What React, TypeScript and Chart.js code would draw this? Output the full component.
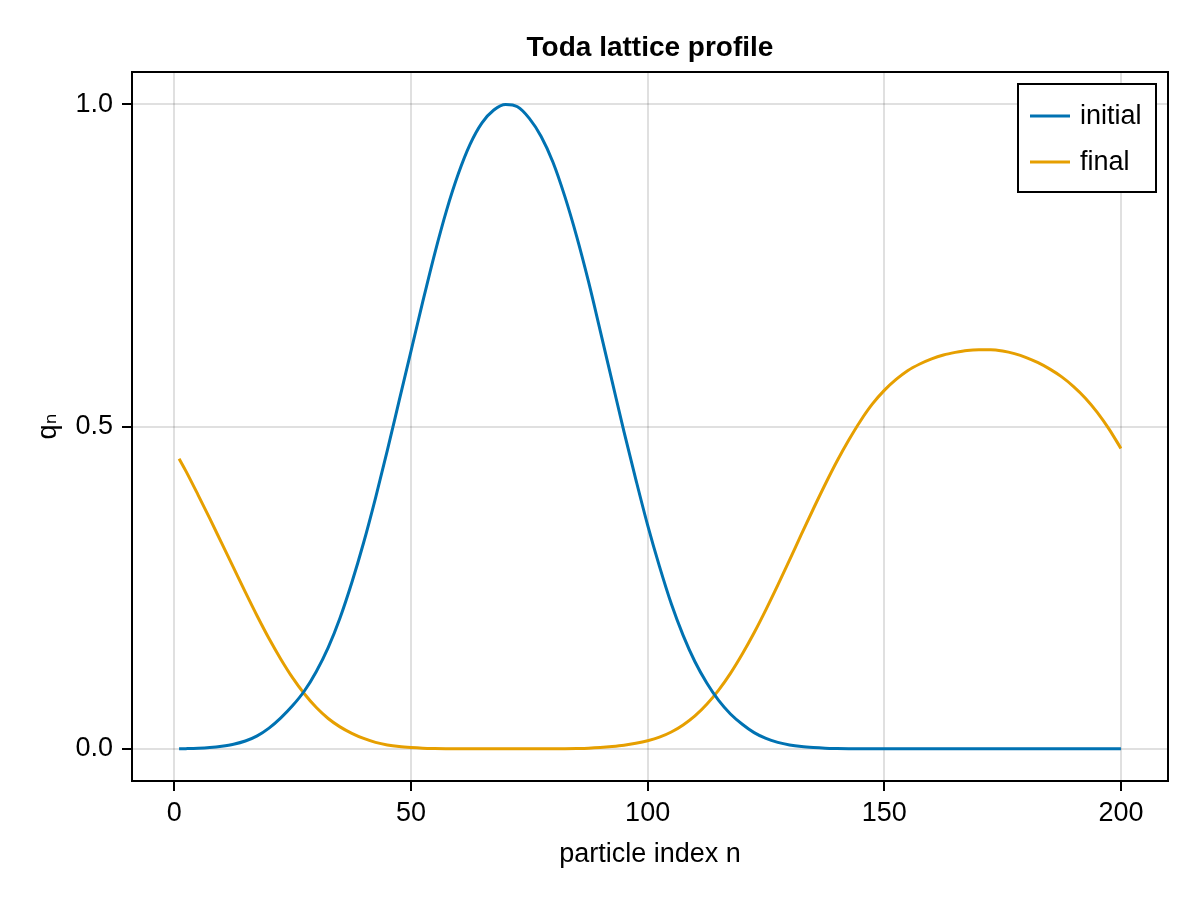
import React, { useEffect, useRef } from "react";
import { Chart, registerables } from "chart.js";

Chart.register(...registerables);

// ---- data ----
const particleIndex = [
  1, 2.5, 5, 7.5, 10, 12.5, 15, 17.5, 20, 22.5, 25, 27.5, 30, 32.5, 35, 37.5,
  40, 42.5, 45, 47.5, 50, 52.5, 55, 57.5, 60, 62.5, 65, 67.5, 70, 72.5, 75, 77.5,
  80, 82.5, 85, 87.5, 90, 92.5, 95, 97.5, 100, 102.5, 105, 107.5, 110, 112.5,
  115, 117.5, 120, 122.5, 125, 127.5, 130, 132.5, 135, 137.5, 140, 142.5, 145,
  147.5, 150, 152.5, 155, 157.5, 160, 162.5, 165, 167.5, 170, 172.5, 175, 177.5,
  180, 182.5, 185, 187.5, 190, 192.5, 195, 197.5, 200,
];

const initialProfile = [
  0, 0.0002, 0.0008, 0.002, 0.004, 0.007, 0.012, 0.02, 0.032, 0.048, 0.067,
  0.09, 0.12, 0.157, 0.203, 0.258, 0.32, 0.389, 0.463, 0.54, 0.617, 0.694,
  0.768, 0.835, 0.892, 0.938, 0.971, 0.991, 0.9995, 0.996, 0.978, 0.95, 0.91,
  0.857, 0.795, 0.725, 0.648, 0.57, 0.492, 0.418, 0.347, 0.283, 0.225, 0.176,
  0.135, 0.102, 0.075, 0.054, 0.038, 0.025, 0.016, 0.01, 0.006, 0.0035, 0.002,
  0.001, 0.0005, 0.0002, 0, 0, 0, 0, 0, 0, 0, 0, 0, 0, 0, 0, 0, 0, 0, 0, 0, 0,
  0, 0, 0, 0, 0,
];

const finalProfile = [
  0.45, 0.43, 0.394, 0.357, 0.319, 0.281, 0.243, 0.206, 0.171, 0.139, 0.11,
  0.085, 0.064, 0.047, 0.034, 0.024, 0.016, 0.01, 0.006, 0.0035, 0.002, 0.001,
  0.0005, 0.0002, 0, 0, 0, 0, 0, 0, 0, 0, 0, 0.0002, 0.0005, 0.001, 0.002,
  0.0035, 0.0055, 0.0085, 0.0125, 0.018, 0.026, 0.037, 0.051, 0.069, 0.091,
  0.117, 0.147, 0.18, 0.216, 0.254, 0.293, 0.333, 0.372, 0.41, 0.446, 0.479,
  0.509, 0.535, 0.556, 0.573, 0.587, 0.597, 0.605, 0.611, 0.615, 0.618, 0.619,
  0.619, 0.617, 0.613, 0.607, 0.599, 0.589, 0.577, 0.562, 0.544, 0.522, 0.496,
  0.466,
];

const seriesLabels = ["initial", "final"];
const seriesColors = ["#0072B2", "#E69F00"];
const xTickValues = [0, 50, 100, 150, 200];
const yTickValues = [0, 0.5, 1.0];
const titleText = "Toda lattice profile";
const xAxisLabel = "particle index n";
const yAxisLabel = "qₙ";

const FONT = "'Liberation Sans', Arial, 'DejaVu Sans', sans-serif";

const frameLegendPlugin = {
  id: "frameLegend",
  afterDraw(chart: any) {
    const ctx = chart.ctx;
    const a = chart.chartArea;
    ctx.save();
    // full frame around plot area
    ctx.strokeStyle = "#000";
    ctx.lineWidth = 2;
    ctx.strokeRect(a.left, a.top, a.right - a.left, a.bottom - a.top);

    // legend box (top-right, inside plot)
    const boxW = 138;
    const boxH = 108;
    const bx = a.right - 12 - boxW;
    const by = a.top + 12;
    ctx.fillStyle = "#fff";
    ctx.fillRect(bx, by, boxW, boxH);
    ctx.strokeRect(bx, by, boxW, boxH);
    ctx.font = `27px ${FONT}`;
    ctx.textBaseline = "middle";
    ctx.textAlign = "left";
    chart.data.datasets.forEach((ds: any, i: number) => {
      const y = by + 32 + i * 46;
      ctx.strokeStyle = ds.borderColor;
      ctx.lineWidth = 3;
      ctx.beginPath();
      ctx.moveTo(bx + 12, y);
      ctx.lineTo(bx + 52, y);
      ctx.stroke();
      ctx.fillStyle = "#000";
      ctx.fillText(ds.label, bx + 62, y + 1);
    });
    ctx.restore();
  },
};

export default function App() {
  const canvasRef = useRef<HTMLCanvasElement | null>(null);

  useEffect(() => {
    const canvas = canvasRef.current;
    if (!canvas) return;
    const makeSeries = (vals: number[]) =>
      particleIndex.map((n, i) => ({ x: n, y: vals[i] }));

    const gridCommon = {
      color: "rgba(0,0,0,0.12)",
      lineWidth: 2,
      drawTicks: true,
      tickLength: 10,
      tickColor: "#000",
      tickWidth: 2,
    };

    const chart = new Chart(canvas, {
      type: "line",
      data: {
        datasets: [
          {
            label: seriesLabels[0],
            data: makeSeries(initialProfile),
            borderColor: seriesColors[0],
            backgroundColor: seriesColors[0],
            borderWidth: 3,
            pointRadius: 0,
            cubicInterpolationMode: "monotone",
            fill: false,
          },
          {
            label: seriesLabels[1],
            data: makeSeries(finalProfile),
            borderColor: seriesColors[1],
            backgroundColor: seriesColors[1],
            borderWidth: 3,
            pointRadius: 0,
            cubicInterpolationMode: "monotone",
            fill: false,
          },
        ],
      },
      options: {
        responsive: false,
        animation: false,
        devicePixelRatio: 1,
        layout: { padding: { left: 0, right: 32, top: 0, bottom: 0 } },
        plugins: {
          legend: { display: false },
          tooltip: { enabled: false },
          title: {
            display: true,
            text: titleText,
            fullSize: false,
            color: "#000",
            font: { family: FONT, size: 28, weight: "bold", lineHeight: 1.2 },
            padding: { top: 31, bottom: 7.4 },
          },
        },
        scales: {
          x: {
            type: "linear",
            min: -8.95,
            max: 209.95,
            afterBuildTicks: (s: any) => {
              s.ticks = xTickValues.map((v) => ({ value: v }));
            },
            afterFit: (s: any) => {
              s.height = 119;
            },
            ticks: {
              color: "#000",
              font: { family: FONT, size: 27 },
              padding: 6,
              maxRotation: 0,
              autoSkip: false,
              callback: (v: any) => String(v),
            },
            grid: gridCommon,
            border: { display: false },
            title: {
              display: true,
              text: xAxisLabel,
              color: "#000",
              font: { family: FONT, size: 27, lineHeight: 1.2 },
              padding: { bottom: 29 },
            },
          },
          y: {
            type: "linear",
            min: -0.05,
            max: 1.05,
            afterBuildTicks: (s: any) => {
              s.ticks = yTickValues.map((v) => ({ value: v }));
            },
            afterFit: (s: any) => {
              s.width = 132;
            },
            ticks: {
              color: "#000",
              font: { family: FONT, size: 27 },
              padding: 9,
              autoSkip: false,
              callback: (v: any) => Number(v).toFixed(1),
            },
            grid: gridCommon,
            border: { display: false },
            title: {
              display: true,
              text: yAxisLabel,
              color: "#000",
              font: { family: FONT, size: 27, lineHeight: 1.2 },
              padding: { top: 32 },
            },
          },
        },
      },
      plugins: [frameLegendPlugin],
    } as any);

    return () => chart.destroy();
  }, []);

  return (
    <div
      style={{
        position: "absolute",
        left: 0,
        top: 0,
        width: 1200,
        height: 900,
        background: "#fff",
      }}
    >
      <canvas ref={canvasRef} width={1200} height={900} />
    </div>
  );
}
